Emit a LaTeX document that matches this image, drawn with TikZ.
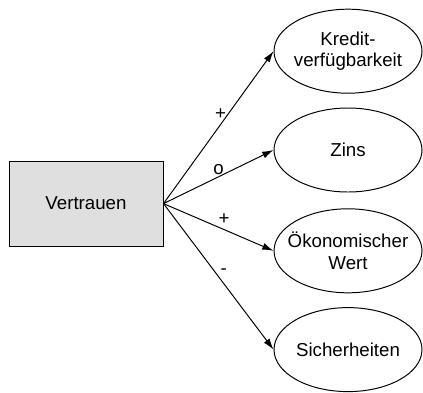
\documentclass[tikz,border=0pt]{standalone}
\usepackage{fontspec}
\setmainfont{Liberation Sans}
\usetikzlibrary{shapes.geometric,arrows.meta}

\begin{document}
\begin{tikzpicture}[font=\fontsize{13.3}{15}\selectfont, line width=0.7pt,
		effect/.style={draw, ellipse, inner xsep=-20pt, inner ysep=-10pt, minimum width=3.7cm, minimum height=2.1cm, align=center},
		arr/.style={-{Latex[length=8pt,width=5pt]}}]
			\useasboundingbox (0,0) rectangle (10.575,9.8);
			
			\node[draw, fill=gray!25, minimum width=3.85cm, minimum height=2.125cm] (v) at (2.15,4.71) {Vertrauen};
			
			\node[effect] (k) at (8.7,8.52) {Kredit-\\verfügbarkeit};
			\node[effect] (z) at (8.7,6.05) {Zins};
			\node[effect] (w) at (8.7,3.53) {Ökonomischer\\Wert};
			\node[effect] (s) at (8.7,1.06) {Sicherheiten};
			
			\draw[arr] (v.east) to node[above, pos=0.52] {+} (k.west);
			\draw[arr] (v.east) to node[above, pos=0.5, inner sep=1pt] {o} (z.west);
			\draw[arr] (v.east) to node[above, pos=0.55] {+} (w.west);
			\draw[arr] (v.east) to node[right, pos=0.45, inner sep=5pt, yshift=-2pt] {-} (s.west);
		\end{tikzpicture}
\end{document}
